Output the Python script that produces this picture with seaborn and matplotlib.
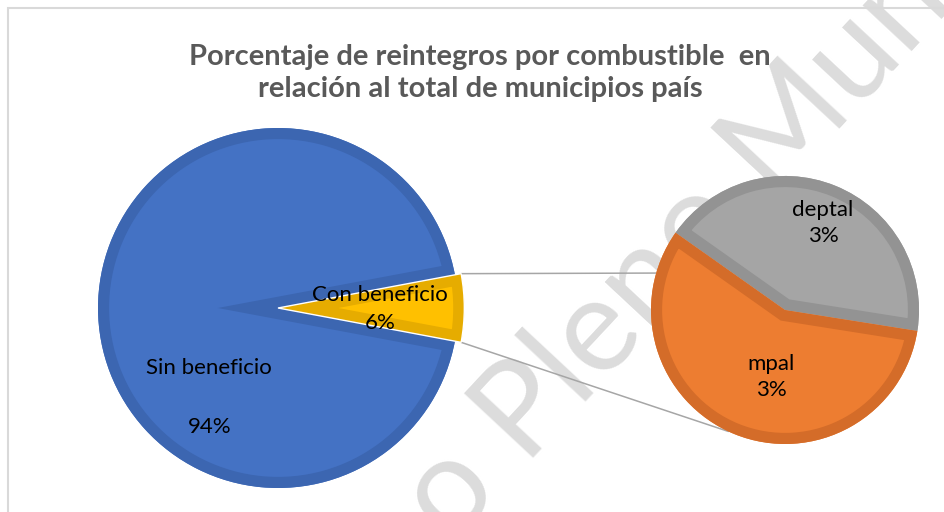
import numpy as np
import seaborn as sns
import matplotlib.pyplot as plt
from matplotlib.patches import Rectangle, Wedge
from matplotlib.lines import Line2D

# main pie
main_labels = ["Con beneficio", "Sin beneficio"]
main_values = [5.9, 94.1]
main_colors = ["#FFC000", "#4472C4"]
main_edges = ["#E6AC00", "#3C66B1"]

# breakdown of "Con beneficio"
sub_labels = ["deptal", "mpal"]
sub_values = [2.52, 3.38]
sub_colors = ["#A5A5A5", "#ED7D31"]
sub_edges = ["#939393", "#D46C29"]

title = "Porcentaje de reintegros por combustible  en\nrelación al total de municipios país"
watermark = "o Pleno Municipal"

sns.set_theme(style = "white")
plt.rcParams["font.family"] = ["Lato", "DejaVu Sans"]

W, H = 945, 512
fig = plt.figure(figsize = (W / 100, H / 100), dpi = 100)
ax = fig.add_axes([0, 0, 1, 1])

# watermark behind everything
ax.text(451, -33, watermark, rotation = 47, rotation_mode = "anchor", ha = "left", va = "baseline",
        fontsize = 95, color = "#DCDCDC", zorder = 0)

main_center = (278, H - 308)
main_radius = 180
sub_center = (785, H - 310)
sub_radius = 134

total = sum(main_values)
main_start = -main_values[0] / total * 180
main_wedges, _ = ax.pie(main_values, colors = main_colors, center = main_center, radius = main_radius,
                        startangle = main_start, explode = [0.015, 0], counterclock = True)
sub_wedges, _ = ax.pie(sub_values, colors = sub_colors, center = sub_center, radius = sub_radius,
                       startangle = -9, explode = [0.04, 0], counterclock = True)

# the split-off slice sticks out a little past the main pie
yellow = main_wedges[0]
yellow.set_radius(main_radius * 1.035)


def add_inner_border(wedge, color, width = 16):
    """Draw a border that stays inside the wedge outline."""
    border = Wedge(wedge.center, wedge.r, wedge.theta1, wedge.theta2, fill = False,
                   edgecolor = color, linewidth = width, joinstyle = "miter",
                   zorder = wedge.get_zorder() + 0.1)
    ax.add_patch(border)
    border.set_clip_path(wedge)
    wedge.set_linewidth(0)
    return border


for wedge, edge in zip(list(main_wedges) + list(sub_wedges), main_edges + sub_edges):
    add_inner_border(wedge, edge)

ax.add_patch(Wedge(yellow.center, yellow.r, yellow.theta1, yellow.theta2, fill = False,
                   edgecolor = "white", linewidth = 1, zorder = 3))


# connector lines from the split slice to the second pie
def point_on(center, radius, angle):
    a = np.deg2rad(angle)
    return center[0] + radius * np.cos(a), center[1] + radius * np.sin(a)


for main_angle, sub_angle in [(yellow.theta2, 164), (yellow.theta1, 245)]:
    x0, y0 = point_on(yellow.center, yellow.r, main_angle)
    x1, y1 = point_on(sub_center, sub_radius, sub_angle)
    ax.add_line(Line2D([x0, x1], [y0, y1], color = "#A6A6A6", linewidth = 1.1, zorder = 0.5))

# data labels
label_font = dict(fontsize = 16, color = "black", ha = "center", va = "center", zorder = 5)
main_pct = [v / total * 100 for v in main_values]
ax.text(380, H - 295, main_labels[0], **label_font)
ax.text(380, H - 323, f"{main_pct[0]:.0f}%", **label_font)
ax.text(209, H - 368, main_labels[1], **label_font)
ax.text(210, H - 427, f"{main_pct[1]:.0f}%", **label_font)
sub_pct = [v / total * 100 for v in sub_values]
ax.text(823, H - 223, f"{sub_labels[0]}\n{sub_pct[0]:.0f}%", linespacing = 1.4, **label_font)
ax.text(771, H - 377, f"{sub_labels[1]}\n{sub_pct[1]:.0f}%", linespacing = 1.4, **label_font)

ax.text(480, H - 73, title, ha = "center", va = "center", fontsize = 21, fontweight = "bold",
        color = "#595959", linespacing = 1.25)

# chart frame
ax.add_patch(Rectangle((8, -20), 1000, H - 8 + 20, fill = False, edgecolor = "#D9D9D9", linewidth = 1.5))

ax.set_xlim(0, W)
ax.set_ylim(0, H)
ax.set_aspect("equal")
ax.axis("off")

fig.savefig("out.png", dpi = 100, facecolor = "white")
